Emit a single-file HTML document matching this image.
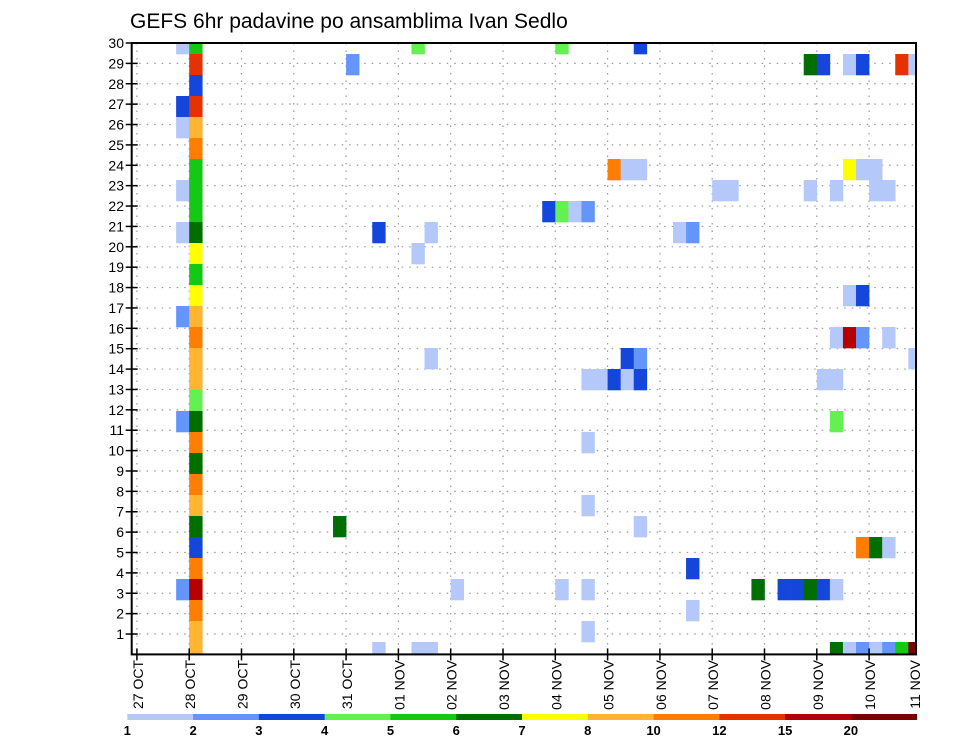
<!DOCTYPE html>
<html>
<head>
<meta charset="utf-8">
<style>
  html,body{margin:0;padding:0;background:#fff;}
  svg{display:block;font-family:"Liberation Sans",sans-serif;}
</style>
</head>
<body>
<svg id="chart" width="960" height="742" viewBox="0 0 960 742" xmlns="http://www.w3.org/2000/svg">
  <text x="130" y="28" font-size="21" fill="#000">GEFS 6hr padavine po ansamblima Ivan Sedlo</text>
  <g id="grid"></g>
  <g id="cells"></g>
  <g id="axes"></g>
  <g id="colorbar"></g>
</svg>
<script>
// ---- data ----
const dayLabels = ["27 OCT","28 OCT","29 OCT","30 OCT","31 OCT","01 NOV","02 NOV","03 NOV","04 NOV","05 NOV","06 NOV","07 NOV","08 NOV","09 NOV","10 NOV","11 NOV"];
const yTickLabels = [1,2,3,4,5,6,7,8,9,10,11,12,13,14,15,16,17,18,19,20,21,22,23,24,25,26,27,28,29,30];
const levelBounds = [1,2,3,4,5,6,7,8,10,12,15,20];
const levelColors = ["#b4c8fa","#6496fa","#1446dc","#64f050","#14c814","#006e00","#ffff00","#ffb432","#ff7d00","#e63200","#b40000","#780000"];
// per row (top to bottom, 0..29): 6-hourly step indices from 27 OCT 00Z
const rowCols = [
 [3,4,21,32,38],
 [4,16,51,52,54,55,58,59],
 [4],
 [3,4],
 [3,4],
 [4],
 [4,36,37,38,54,55,56],
 [3,4,44,45,51,53,56,57],
 [4,31,32,33,34],
 [3,4,18,22,41,42],
 [4,21],
 [4],
 [4,54,55],
 [3,4],
 [4,53,54,55,57],
 [4,22,37,38,59],
 [4,34,35,36,37,38,52,53],
 [4],
 [3,4,53],
 [4,34],
 [4],
 [4],
 [4,34],
 [4,15,38],
 [4,55,56,57],
 [4,42],
 [3,4,24,32,34,47,49,50,51,52,53],
 [4,42],
 [4,34],
 [4,18,21,22,53,54,55,56,57,58,59]
];
// matching precipitation values (mm)
const rowValues = [
 [1.5,5.5,4.5,4.5,3.5],
 [13.5,2.5,6.5,3.5,1.5,3.5,13.5,1.5],
 [3.5],
 [3.5,13.5],
 [1.5,9],
 [11],
 [5.5,11,1.5,1.5,7.5,1.5,1.5],
 [1.5,5.5,1.5,1.5,1.5,1.5,1.5,1.5],
 [5.5,3.5,4.5,1.5,2.5],
 [1.5,6.5,3.5,1.5,1.5,2.5],
 [7.5,1.5],
 [5.5],
 [7.5,1.5,3.5],
 [2.5,9],
 [11,1.5,17.5,2.5,1.5],
 [9,1.5,3.5,2.5,1.5],
 [9,1.5,1.5,3.5,1.5,3.5,1.5,1.5],
 [4.5],
 [2.5,6.5,4.5],
 [11,1.5],
 [6.5],
 [11],
 [9,1.5],
 [6.5,6.5,1.5],
 [3.5,11,6.5,1.5],
 [11,3.5],
 [2.5,17.5,1.5,1.5,1.5,6.5,3.5,3.5,6.5,3.5,1.5],
 [11,1.5],
 [9,1.5],
 [9,1.5,1.5,1.5,6.5,1.5,2.5,1.5,2.5,5.5,25]
];
</script>
<script>
const NS = "http://www.w3.org/2000/svg";
const PL = 131.7, PR = 916, PT = 43, PB = 654.4;
const X0 = 136.9, DAY = 52.3, STEP = DAY / 4;
const ROW_TOP0 = 33, ROW_H = 21;
function xDay(d){ return X0 + d * DAY; }
function xStep(i){ return X0 + i * STEP; }
function yTick(k){ return PB - k * (PB - PT) / 30; }
function yRowTop(r){ return ROW_TOP0 + r * ROW_H; }
function colorFor(v){
  let idx = 0;
  for (let i = 0; i < levelBounds.length; i++) if (v >= levelBounds[i]) idx = i;
  return levelColors[idx];
}
function mk(tag, attrs, parent){
  const e = document.createElementNS(NS, tag);
  for (const k in attrs) e.setAttribute(k, attrs[k]);
  parent.appendChild(e);
  return e;
}
const grid = document.getElementById("grid");
const cells = document.getElementById("cells");
const axes = document.getElementById("axes");
const cbar = document.getElementById("colorbar");

yTickLabels.forEach(k => {
  if (k >= 30) return;
  const l = mk("line", {x1: PL, x2: PR, y1: yTick(k), y2: yTick(k), stroke: "#999", "stroke-width": 1.2, "stroke-dasharray": "1.5,6"}, grid);
  
  
});
dayLabels.forEach((d, i) => {
  const x = xDay(i);
  if (x <= PL || x >= PR) return;
  const l = mk("line", {x1: x, x2: x, y1: PT, y2: PB, stroke: "#999", "stroke-width": 1.2, "stroke-dasharray": "1.5,6"}, grid);
  
  
});

const clip = mk("clipPath", {id: "plotclip"}, document.getElementById("chart"));
mk("rect", {x: PL, y: PT, width: PR - PL, height: PB - PT}, clip);
cells.setAttribute("clip-path", "url(#plotclip)");
rowCols.forEach((cols, r) => {
  cols.forEach((c, n) => {
    const rect = mk("rect", {x: xStep(c), y: yRowTop(r), width: STEP + 0.3, height: ROW_H + 0.3, fill: colorFor(rowValues[r][n])}, cells);
    
    
  });
});

const fr = mk("rect", {x: PL, y: PT, width: PR - PL, height: PB - PT, fill: "none", stroke: "#000", "stroke-width": 2}, axes);



yTickLabels.forEach(k => {
  const y = yTick(k);
  const t = mk("line", {x1: PL - 6, x2: PL + 6, y1: y, y2: y, stroke: "#000", "stroke-width": 1.5}, axes);
  
  
  const tx = mk("text", {x: 124, y: y + 5, "font-size": 14, "text-anchor": "end", fill: "#000"}, axes);
  tx.textContent = String(k);
  
  
});
dayLabels.forEach((d, i) => {
  const x = xDay(i);
  if (x <= PR) {
    const t = mk("line", {x1: x, x2: x, y1: PB - 6, y2: PB + 6, stroke: "#000", "stroke-width": 1.5}, axes);
    
    
  }
  const lx = Math.min(x + 6, 920);
  const tx = mk("text", {transform: "translate(" + lx + ",660) rotate(-90)", "font-size": 14, "text-anchor": "end", fill: "#000"}, axes);
  tx.textContent = d;
  
  
});

const CB0 = 127.3, CB1 = 916.7, CBW = (CB1 - CB0) / levelColors.length;
levelColors.forEach((c, i) => {
  const r = mk("rect", {x: CB0 + i * CBW, y: 714, width: CBW + 0.3, height: 6, fill: c}, cbar);
  
  
});
levelBounds.forEach((b, i) => {
  const tx = mk("text", {x: CB0 + i * CBW, y: 735, "font-size": 13, "font-weight": "bold", "text-anchor": "middle", fill: "#000"}, cbar);
  tx.textContent = String(b);
  
  
});
</script>
</body>
</html>
